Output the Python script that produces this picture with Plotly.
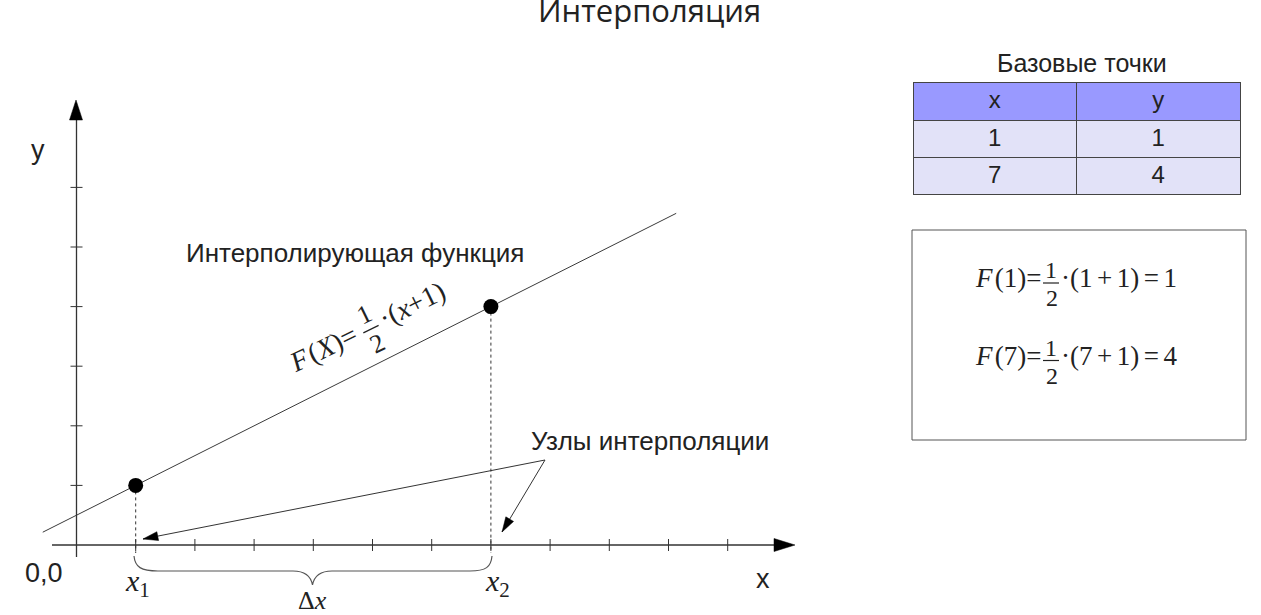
import math
import plotly.graph_objects as go

W, H = 1261, 615

# ---------------- data ----------------
base_x = [1, 7]                 # interpolation nodes (x)
base_y = [1, 4]                 # interpolation nodes (y)
line_x_ends = [-0.57, 10.13]    # extent of the drawn interpolating line
x_ticks = [1, 2, 3, 4, 5, 6, 7, 8, 9, 10, 11]
y_ticks = [1, 2, 3, 4, 5, 6]
table_header = ["x", "y"]
table_x = [1, 7]
table_y = [1, 4]

# linear interpolating function through the base points
slope = (base_y[1] - base_y[0]) / (base_x[1] - base_x[0])
def F(x):
    return base_y[0] + slope * (x - base_x[0])
line_y_ends = [F(v) for v in line_x_ends]

# ---------------- pixel <-> data helpers ----------------
X0, SX = 76.5, 59.2
Y0, SY = 545.0, 59.6
def dx(px): return (px - X0) / SX
def dy(py): return (Y0 - py) / SY

INK = "#222222"
GREY = "#3a3a3a"
SANS = "Liberation Sans, Arial, sans-serif"
SERIF = "Liberation Serif, Times New Roman, serif"

fig = go.Figure()

# interpolating line
fig.add_trace(go.Scatter(x=line_x_ends, y=line_y_ends, mode="lines",
                         line=dict(color=GREY, width=1), hoverinfo="skip"))

# dotted drop lines from the nodes
drop_x, drop_y = [], []
for bx, by in zip(base_x, base_y):
    drop_x += [bx, bx, None]
    drop_y += [by, dy(553), None]
fig.add_trace(go.Scatter(x=drop_x, y=drop_y, mode="lines",
                         line=dict(color="#333333", width=1, dash="dot"), hoverinfo="skip"))

# axes
x_axis_from = dx(52)
y_axis_from = dy(557)
fig.add_trace(go.Scatter(x=[x_axis_from, dx(776), None, 0, 0],
                         y=[0, 0, None, y_axis_from, dy(118)], mode="lines",
                         line=dict(color="#333333", width=1.3), hoverinfo="skip"))

# ticks
tx, ty = [], []
h = 6.0 / SY
for t in x_ticks:
    tx += [t, t, None]
    ty += [-h, h, None]
w = 6.0 / SX
for t in y_ticks:
    tx += [-w, w, None]
    ty += [t, t, None]
fig.add_trace(go.Scatter(x=tx, y=ty, mode="lines",
                         line=dict(color="#333333", width=1), hoverinfo="skip"))

# callout lines
c_from = (545, 460)
c_tips = [(143, 539), (502, 532)]
cx, cy = [], []
for tip in c_tips:
    cx += [dx(c_from[0]), dx(tip[0]), None]
    cy += [dy(c_from[1]), dy(tip[1]), None]
fig.add_trace(go.Scatter(x=cx, y=cy, mode="lines",
                         line=dict(color="#333333", width=1), hoverinfo="skip"))

# nodes
fig.add_trace(go.Scatter(x=base_x, y=base_y, mode="markers",
                         marker=dict(color="black", size=15), hoverinfo="skip"))

# table of base points
fig.add_trace(go.Table(
    domain=dict(x=[913 / W, 1241 / W], y=[1 - 198 / H, 1 - 82 / H]),
    columnwidth=[1, 1],
    header=dict(values=table_header, fill_color="#9999ff",
                line=dict(color="#444444", width=1), align="center", height=38,
                font=dict(family=SANS, size=24, color=INK)),
    cells=dict(values=[table_x, table_y], fill_color="#e2e2f8",
               line=dict(color="#444444", width=1), align="center", height=37,
               font=dict(family=SANS, size=24, color=INK)),
))

shapes = []

def tri_path(tip, frm, length, hw):
    ddx, ddy = tip[0] - frm[0], tip[1] - frm[1]
    n = math.hypot(ddx, ddy)
    ux, uy = ddx / n, ddy / n
    bx, by = tip[0] - ux * length, tip[1] - uy * length
    px, py = -uy, ux
    pts = [tip, (bx + px * hw, by + py * hw), (bx - px * hw, by - py * hw)]
    return "M " + " L ".join(f"{dx(a):.4f},{dy(b):.4f}" for a, b in pts) + " Z"

for tip, frm, L, hw in [((795, 545), (52, 545), 21, 6.5),
                        ((76, 100), (76, 557), 20, 6.5),
                        (c_tips[0], c_from, 15, 4.5),
                        (c_tips[1], c_from, 15, 4.5)]:
    shapes.append(dict(type="path", xref="x", yref="y", path=tri_path(tip, frm, L, hw),
                       fillcolor="black", line=dict(color="black", width=0.5)))

# curly brace under the x axis
def P(a, b): return f"{dx(a):.4f},{dy(b):.4f}"
brace = ("M " + P(134, 556) + " C " + P(135, 567) + " " + P(141, 571) + " " + P(158, 571) +
         " L " + P(293, 571) + " C " + P(306, 571) + " " + P(311, 577) + " " + P(312.5, 585) +
         " C " + P(314, 577) + " " + P(319, 571) + " " + P(332, 571) +
         " L " + P(470, 571) + " C " + P(486, 571) + " " + P(491, 567) + " " + P(492, 556))
shapes.append(dict(type="path", xref="x", yref="y", path=brace,
                   line=dict(color="#555555", width=1.2)))

# formula box
shapes.append(dict(type="rect", xref="x", yref="y", x0=dx(912), x1=dx(1246), y0=dy(440), y1=dy(230),
                   line=dict(color="#555555", width=1)))

annotations = []
def txt(text, px, py, size, family=SANS, xanchor="center", angle=0, color=INK):
    annotations.append(dict(text=text, x=dx(px), y=dy(py), xref="x", yref="y",
                            showarrow=False, xanchor=xanchor, yanchor="middle",
                            textangle=angle, font=dict(family=family, size=size, color=color)))

txt("Интерполяция", 649, 10, 31, family="Open Sans, sans-serif")
txt("y", 37.5, 150, 27)
txt("0,0", 44, 573, 27)
txt("x", 763, 579, 27)
txt("Интерполирующая функция", 355, 253, 26)
txt("Узлы интерполяции", 649.5, 441, 26)
txt("Базовые точки", 1081.5, 63, 25)

txt("<i>x</i><sub>1</sub>", 137, 583, 30, family=SERIF)
txt("<i>x</i><sub>2</sub>", 497.5, 583, 30, family=SERIF)
txt("Δ<i>x</i>", 312.5, 600, 26, family=SERIF)

# formulas in the box
HS = "\u200a"
SP = "\u2006"
for i, (a, r) in enumerate([(1, 1), (7, 4)]):
    off = 77.5 * i
    annotations.append(dict(text=f"<i>F</i>{HS}({a})=", x=dx(1043), y=dy(278 + off), xref="x", yref="y",
                            showarrow=False, xanchor="right", yanchor="middle",
                            font=dict(family=SERIF, size=27, color=INK)))
    txt("1", 1051, 270 + off, 24, family=SERIF)
    txt("2", 1052, 298 + off, 24, family=SERIF)
    shapes.append(dict(type="line", xref="x", yref="y", x0=dx(1043), x1=dx(1059),
                       y0=dy(283 + off), y1=dy(283 + off), line=dict(color=INK, width=1.2)))
    annotations.append(dict(text=f"·({a}{SP}+{SP}1){SP}={SP}{r}", x=dx(1059), y=dy(278 + off),
                            xref="x", yref="y", showarrow=False, xanchor="left", yanchor="middle",
                            font=dict(family=SERIF, size=27, color=INK)))

# rotated formula along the line
TH = math.radians(26)
O = (371, 328)
def rp(u, v):
    return (O[0] + u * math.cos(TH) - v * math.sin(TH), O[1] - u * math.sin(TH) - v * math.cos(TH))

for text, u, v, s in [(f"<i>F</i>{HS}(<i>X</i>)=", -52, 3, 28),
                      ("1", 0, 15, 26), ("2", -1, -17, 26),
                      ("·(<i>x</i>+1)", 47, 3, 28)]:
    p = rp(u, v)
    txt(text, p[0], p[1], s, family=SERIF, angle=-26)
b0, b1 = rp(-9, -1), rp(8, -1)
shapes.append(dict(type="line", xref="x", yref="y", x0=dx(b0[0]), y0=dy(b0[1]),
                   x1=dx(b1[0]), y1=dy(b1[1]), line=dict(color=INK, width=1.2)))

fig.update_layout(
    width=W, height=H,
    margin=dict(l=0, r=0, t=0, b=0),
    paper_bgcolor="white", plot_bgcolor="white",
    showlegend=False, hovermode=False,
    xaxis=dict(range=[dx(0), dx(W)], visible=False, fixedrange=True),
    yaxis=dict(range=[dy(H), dy(0)], visible=False, fixedrange=True),
    shapes=shapes, annotations=annotations,
)

fig.write_html("out.html", config={"displayModeBar": False},
               post_script="document.body.style.margin='0';document.body.style.overflow='hidden';")
